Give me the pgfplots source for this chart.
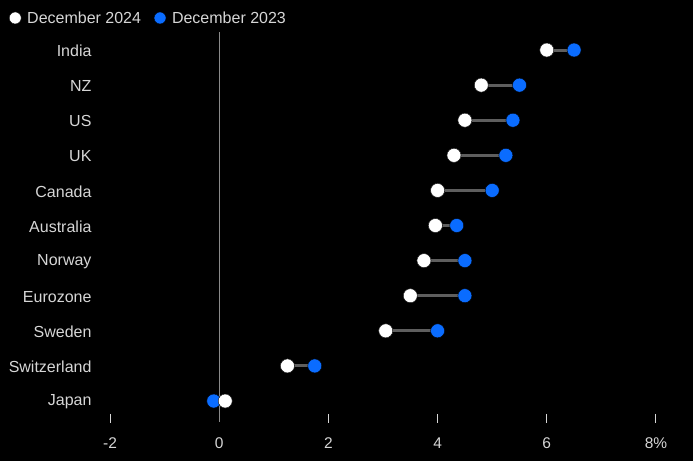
\documentclass[border=0pt]{standalone}
\usepackage{fontspec}
\setmainfont{Liberation Sans}
\usepackage{pgfplots}
\usepackage{pgfplotstable}
\pgfplotsset{compat=1.18}
\definecolor{bblue}{HTML}{0A6CFF}
\definecolor{linegray}{HTML}{5E5E5E}
\definecolor{zerogray}{HTML}{8A8A8A}
\definecolor{txt}{HTML}{D6D6D6}
\pgfplotstableread{
row name d24 d23
10 India 6.00 6.50
9 NZ 4.80 5.50
8 US 4.50 5.38
7 UK 4.30 5.25
6 Canada 4.00 5.00
5 Australia 3.96 4.35
4 Norway 3.75 4.50
3 Eurozone 3.50 4.50
2 Sweden 3.05 4.00
1 Switzerland 1.25 1.75
0 Japan 0.11 -0.10
}\ratesdata
\begin{document}
\begin{tikzpicture}
\begin{axis}[
  name=ax,
  scale only axis,
  width=693pt, height=461pt,
  xmin=-4.015, xmax=8.678,
  ymin=-1.709, ymax=11.425,
  axis background/.style={fill=black},
  axis line style={draw=none},
  tick style={draw=none},
  clip=false,
  xtick={-2,0,2,4,6,8},
  xticklabels={-2,0,2,4,6,8\%},
  xticklabel style={anchor=center, yshift=18pt, text=txt, font=\fontsize{15.5}{18}\selectfont},
  ytick={0,1,2,3,4,5,6,7,8,9,10},
  yticklabels={Japan,Switzerland,Sweden,Eurozone,Norway,Australia,Canada,UK,US,NZ,India},
  yticklabel style={anchor=east, xshift=95pt, yshift=-1pt, text=txt, font=\fontsize{16}{18}\selectfont},
  legend columns=2,
  legend style={at={(axis description cs:0.0130,0.961)}, anchor=west, draw=none, fill=none,
    text=txt, font=\fontsize{16}{18}\selectfont, inner sep=0pt, nodes={inner sep=0pt},
    /tikz/every even column/.append style={column sep=13pt}},
  legend image code/.code={\draw[#1, mark size=6pt] plot coordinates {(0pt,0pt)};
    \path[draw=none, fill=none] (-6pt,0pt) rectangle (12pt,0.1pt);},
]
% zero line and tick marks
\draw[zerogray, line width=1.3pt] (axis cs:0,10.513) -- (axis cs:0,-0.598);
\draw[txt, line width=1pt] (axis cs:-2,-0.37) -- (axis cs:-2,-0.627)
  (axis cs:2,-0.37) -- (axis cs:2,-0.627)
  (axis cs:4,-0.37) -- (axis cs:4,-0.627)
  (axis cs:6,-0.37) -- (axis cs:6,-0.627)
  (axis cs:8,-0.37) -- (axis cs:8,-0.627);
% connectors
\addplot[forget plot, only marks, mark=none,
  error bars/.cd, x dir=plus, x explicit, error mark=none,
  error bar style={draw=linegray, solid, line width=3pt}]
  table[x=d24, y=row, x error expr=\thisrow{d23}-\thisrow{d24}] {\ratesdata};
\addplot[only marks, mark=*, mark size=7pt, mark options={draw=none, fill=white}]
  table[x=d24, y=row] {\ratesdata};
\addlegendentry{December 2024}
\addplot[only marks, mark=*, mark size=7pt, mark options={draw=none, fill=bblue}]
  table[x=d23, y=row] {\ratesdata};
\addlegendentry{December 2023}
\addplot[forget plot, only marks, mark=*, mark size=7pt, mark options={draw=none, fill=white}]
  table[x=d24, y=row] {\ratesdata};
\end{axis}
\pgfresetboundingbox
\path[use as bounding box] (ax.south west) rectangle (ax.north east);
\end{tikzpicture}
\end{document}
